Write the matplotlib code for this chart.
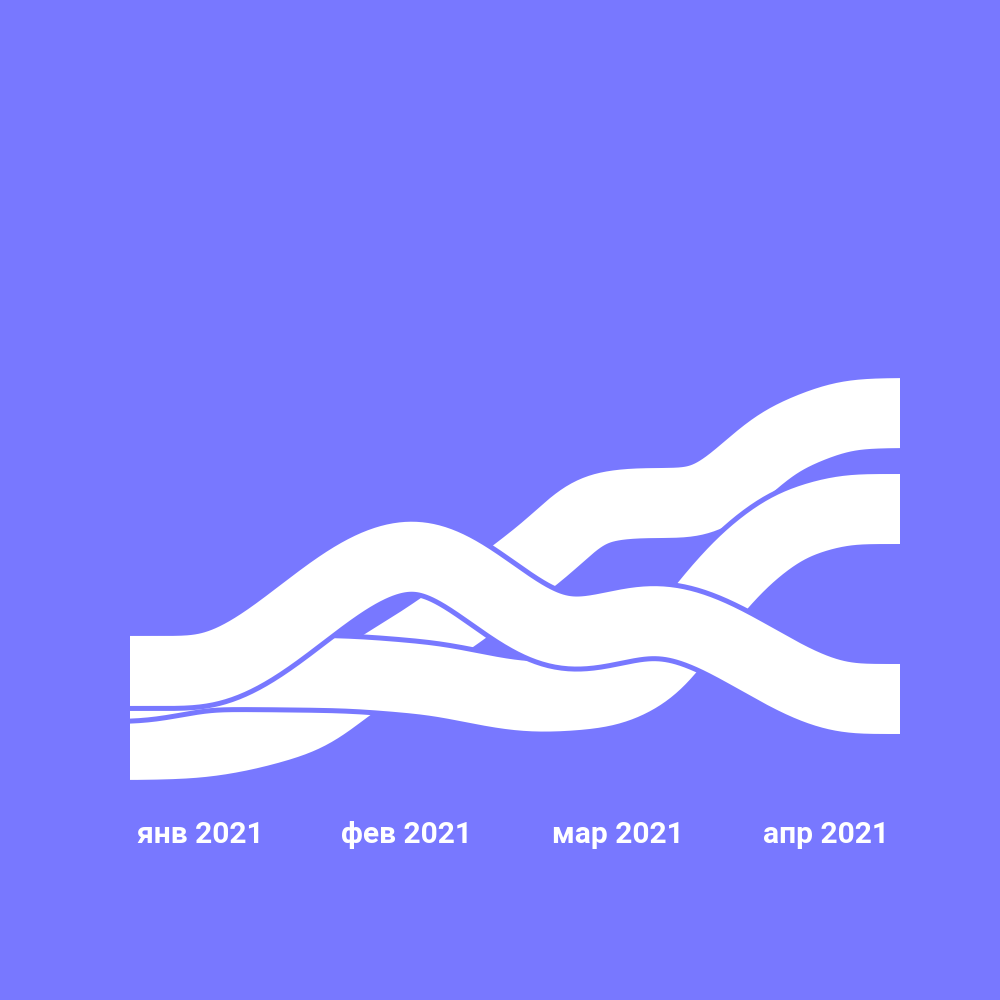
import matplotlib
matplotlib.use("Agg")
import matplotlib.pyplot as plt
from matplotlib.patches import Rectangle
import numpy as np

bg = '#7878ff'

# ribbon centre lines: x in months (0 = янв, 3 = апр), y = score
p_x = [0, 0.234, 1.103, 1.726, 2.045, 2.844, 3.0]
p_y = [32.9, 32.9, 44.5, 36.7, 38.0, 30.1, 30.1]

r_x = [0, 0.195, 0.662, 0.916, 1.142, 1.625, 1.815, 1.995, 2.182, 2.571, 2.844, 3.0]
r_y = [25.5, 25.6, 28.0, 32.5, 36.1, 45.2, 49.2, 49.7, 49.7, 56.4, 58.6, 58.7]

s_x = [0, 0.351, 0.779, 1.130, 1.597, 1.831, 2.026, 2.221, 2.416, 2.610, 2.844, 3.0]
s_y = [31.6, 32.8, 32.7, 32.1, 30.3, 30.7, 32.8, 39.0, 44.5, 47.8, 49.1, 49.1]

labels = ['янв 2021', 'фев 2021', 'мар 2021', 'апр 2021']
label_pos = [0.273, 1.079, 1.901, 2.712]


def pchip(xn, yn, xs):
    xn = np.asarray(xn, float)
    yn = np.asarray(yn, float)
    xs = np.clip(xs, xn[0], xn[-1])
    h = np.diff(xn)
    d = np.diff(yn) / h
    m = np.zeros(len(xn))
    for k in range(1, len(xn) - 1):
        if d[k - 1] * d[k] > 0:
            w1 = 2 * h[k] + h[k - 1]
            w2 = h[k] + 2 * h[k - 1]
            m[k] = (w1 + w2) / (w1 / d[k - 1] + w2 / d[k])
    idx = np.clip(np.searchsorted(xn, xs) - 1, 0, len(xn) - 2)
    hk = h[idx]
    s = (xs - xn[idx]) / hk
    return ((2 * s**3 - 3 * s**2 + 1) * yn[idx] + (s**3 - 2 * s**2 + s) * hk * m[idx]
            + (-2 * s**3 + 3 * s**2) * yn[idx + 1] + (s**3 - s**2) * hk * m[idx + 1])


def smooth(ys, step, sigma=0.06):
    # soften the kinks at the nodes
    n = int(4 * sigma / step)
    k = np.exp(-0.5 * (np.arange(-n, n + 1) * step / sigma) ** 2)
    k /= k.sum()
    padded = np.concatenate([np.full(n, ys[0]), ys, np.full(n, ys[-1])])
    return np.convolve(padded, k, mode='valid')


fig = plt.figure(figsize=(10, 10), dpi=100, facecolor=bg)
ax = fig.add_axes([0, 0, 1, 1])
ax.set_facecolor(bg)
ax.set_xlim(-130 / 256.667, 870 / 256.667)
ax.set_ylim(0, 100)
ax.axis('off')

# ribbons are cut straight at the first and last month
clip = Rectangle((0, 0), 3, 100, transform=ax.transData, visible=False)
ax.add_patch(clip)

xs = np.linspace(-0.2, 3.2, 1361)
step = xs[1] - xs[0]
width = 70 * 0.72
edge = 80 * 0.72
for nx, ny in [(r_x, r_y), (s_x, s_y), (p_x, p_y)]:
    ys = smooth(pchip(nx, ny, xs), step)
    for c, lw in [(bg, edge), ('white', width)]:
        ln, = ax.plot(xs, ys, color=c, lw=lw, solid_capstyle='butt', solid_joinstyle='round')
        ln.set_clip_path(clip)

for pos, lab in zip(label_pos, labels):
    ax.text(pos, 15.7, lab, ha='center', va='baseline', color='white',
            fontsize=21.6, fontweight='bold', family=['Roboto', 'DejaVu Sans'])

fig.savefig('out.png', dpi=100, facecolor=bg)
